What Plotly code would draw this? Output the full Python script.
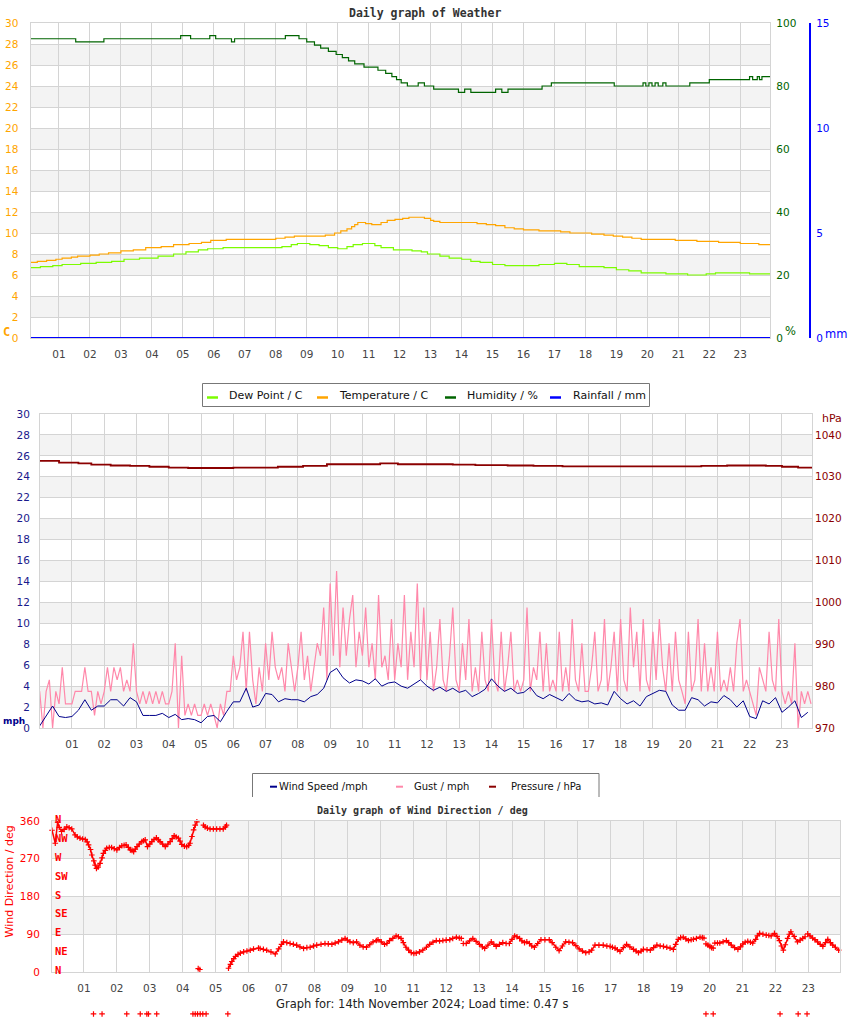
import plotly.graph_objects as go

W, H = 850, 1017


def px(x):
    return x / W


def py(y):
    return 1 - y / H


hour_ticks = list(range(1, 24))
hour_labels = [f"{h:02d}" for h in hour_ticks]

# ---------------- weather panel (step series: hour, value) ----------------
temp_steps = [(0.0, 7.2), (0.3, 7.3), (0.6, 7.4), (0.9, 7.5), (1.1, 7.6), (1.4, 7.7), (1.6, 7.8),
              (2.0, 7.9), (2.3, 8.0), (2.6, 8.1), (3.0, 8.3), (3.4, 8.4), (3.8, 8.6), (4.3, 8.7),
              (4.7, 8.9), (5.2, 9.0), (5.6, 9.1), (5.9, 9.3), (6.4, 9.4), (8.0, 9.5), (8.3, 9.6),
              (8.6, 9.7), (9.6, 9.8), (9.9, 10.0), (10.1, 10.2), (10.3, 10.4), (10.45, 10.6),
              (10.55, 10.8), (10.65, 11.0), (10.9, 10.9), (11.1, 10.8), (11.4, 11.0), (11.6, 11.2),
              (11.85, 11.3), (12.1, 11.4), (12.3, 11.5), (12.8, 11.4), (13.0, 11.2), (13.1, 11.1),
              (13.3, 11.0), (14.5, 10.9), (14.8, 10.8), (15.1, 10.7), (15.4, 10.5), (15.7, 10.4),
              (16.0, 10.3), (16.5, 10.2), (17.2, 10.1), (17.5, 10.0), (18.2, 9.9), (18.6, 9.8),
              (18.9, 9.7), (19.2, 9.6), (19.5, 9.5), (19.8, 9.4), (20.9, 9.3), (21.6, 9.2),
              (22.3, 9.1), (23.0, 9.0), (23.6, 8.9), (23.97, 8.9)]

dew_steps = [(0.0, 6.7), (0.4, 6.8), (0.8, 6.9), (1.1, 7.0), (1.7, 7.1), (2.2, 7.2), (2.7, 7.3),
             (3.1, 7.5), (3.6, 7.6), (4.2, 7.8), (4.7, 8.0), (5.1, 8.2), (5.5, 8.4), (5.8, 8.5),
             (6.3, 8.6), (8.2, 8.7), (8.5, 8.9), (8.7, 9.0), (9.1, 8.9), (9.4, 8.8), (9.7, 8.6),
             (10.0, 8.5), (10.3, 8.7), (10.5, 8.9), (10.8, 9.0), (11.2, 8.8), (11.4, 8.6),
             (11.8, 8.4), (12.4, 8.3), (12.7, 8.2), (12.9, 8.0), (13.3, 7.8), (13.6, 7.6),
             (14.0, 7.5), (14.3, 7.3), (14.6, 7.2), (15.0, 7.0), (15.4, 6.9), (16.5, 7.0),
             (17.0, 7.1), (17.4, 7.0), (17.8, 6.8), (18.6, 6.7), (19.0, 6.5), (19.4, 6.4),
             (19.8, 6.2), (20.6, 6.1), (21.3, 6.0), (21.9, 6.1), (22.2, 6.2), (23.3, 6.1),
             (23.97, 6.1)]

humidity_steps = [(0.0, 95), (1.54, 94), (2.45, 95), (4.93, 96), (5.25, 95), (5.87, 96), (6.06, 95),
                  (6.57, 94), (6.67, 95), (8.31, 96), (8.75, 95), (9.0, 94), (9.25, 93), (9.45, 92),
                  (9.7, 91), (9.95, 90), (10.15, 89), (10.35, 88), (10.55, 87), (10.85, 86),
                  (11.3, 85), (11.55, 84), (11.75, 83), (11.9, 82), (12.05, 81), (12.25, 80),
                  (12.6, 81), (12.8, 80), (13.1, 79), (13.9, 78), (14.1, 79), (14.3, 78),
                  (15.1, 79), (15.3, 78), (15.5, 79), (16.6, 80), (16.9, 81), (18.93, 80),
                  (19.86, 81), (19.95, 80), (20.05, 81), (20.15, 80), (20.25, 81), (20.35, 80),
                  (20.5, 81), (20.6, 80), (21.37, 81), (22.0, 82), (23.3, 83), (23.4, 82),
                  (23.55, 83), (23.62, 82), (23.7, 83), (23.97, 83)]

rain_hours = [0, 4, 8, 12, 16, 20, 23.97]
rain_mm = [0.0, 0.0, 0.0, 0.0, 0.0, 0.0, 0.0]

# ---------------- wind / pressure panel ----------------
gust_mph = [
    3.5, 0.0, 3.5, 4.6, 0.0, 3.5, 2.3, 5.8, 2.3, 2.3,     # 00
    2.3, 3.5, 3.5, 3.5, 5.8, 3.5, 3.5, 1.2, 3.5, 2.3,     # 01
    3.5, 5.8, 3.5, 5.8, 4.6, 5.8, 3.5, 4.6, 3.5, 8.1,     # 02
    3.5, 2.3, 3.5, 2.3, 3.5, 2.3, 3.5, 2.3, 3.5, 2.3,     # 03
    2.3, 3.5, 8.1, 0.0, 6.9, 1.2, 2.3, 1.2, 2.3, 1.2,     # 04
    1.2, 2.3, 1.2, 2.3, 1.2, 0.0, 2.3, 1.2, 3.5, 3.5,     # 05
    6.9, 4.6, 5.8, 9.2, 3.5, 9.2, 4.6, 2.3, 5.8, 3.5,     # 06
    8.1, 4.6, 9.2, 5.8, 4.6, 5.8, 3.5, 8.1, 5.8, 3.5,     # 07
    5.8, 9.2, 4.6, 6.9, 3.5, 5.8, 8.1, 6.9, 11.5, 4.6,    # 08
    13.8, 6.9, 15.0, 5.8, 11.5, 6.9, 10.4, 12.7, 5.8, 9.2,  # 09
    6.9, 11.5, 5.8, 8.1, 4.6, 12.7, 5.8, 6.9, 4.6, 10.4,  # 10
    4.6, 8.1, 5.8, 12.7, 4.6, 9.2, 5.8, 13.8, 4.6, 11.5,  # 11
    4.6, 9.2, 3.5, 5.8, 10.4, 4.6, 3.5, 6.9, 11.5, 4.6,   # 12
    3.5, 8.1, 4.6, 10.4, 3.5, 5.8, 3.5, 9.2, 4.6, 3.5,    # 13
    10.4, 4.6, 3.5, 9.2, 3.5, 5.8, 9.2, 3.5, 4.6, 3.5,    # 14
    4.6, 11.5, 3.5, 5.8, 4.6, 9.2, 3.5, 8.1, 3.5, 4.6,    # 15
    3.5, 9.2, 3.5, 5.8, 3.5, 10.4, 4.6, 3.5, 8.1, 3.5,    # 16
    3.5, 5.8, 9.2, 3.5, 4.6, 10.4, 3.5, 5.8, 9.2, 3.5,    # 17
    10.4, 4.6, 3.5, 11.5, 5.8, 9.2, 3.5, 10.4, 4.6, 3.5,  # 18
    9.2, 4.6, 10.4, 5.8, 3.5, 8.1, 3.5, 9.2, 4.6, 3.5,    # 19
    2.3, 9.2, 3.5, 4.6, 10.4, 3.5, 8.1, 3.5, 5.8, 3.5,    # 20
    9.2, 3.5, 4.6, 3.5, 5.8, 3.5, 8.1, 10.4, 3.5, 4.6,    # 21
    3.5, 2.3, 1.2, 5.8, 4.6, 3.5, 9.2, 4.6, 3.5, 10.4,    # 22
    3.5, 2.3, 3.5, 2.3, 8.1, 0.0, 3.5, 2.3, 3.5, 2.3,     # 23
]
gust_hours = [i / 10 for i in range(len(gust_mph))]

wind_mph = [
    0.2, 1.1, 2.1, 1.1, 1.0,   # 00
    1.1, 1.7, 2.7, 1.7, 2.1,   # 01
    2.1, 2.7, 2.7, 2.1, 2.9,   # 02
    2.5, 1.2, 1.2, 1.2, 1.4,   # 03
    1.0, 1.3, 0.8, 0.9, 0.8,   # 04
    0.5, 1.1, 1.2, 0.6, 1.6,   # 05
    2.5, 2.5, 3.8, 2.0, 2.2,   # 06
    3.3, 3.2, 2.5, 2.8, 2.7,   # 07
    2.7, 2.5, 3.0, 3.2, 3.8,   # 08
    5.3, 5.7, 4.8, 4.3, 4.6,   # 09
    4.5, 4.2, 4.7, 4.0, 4.3,   # 10
    4.4, 4.0, 3.8, 4.2, 4.6,   # 11
    4.0, 3.6, 3.9, 3.5, 3.8,   # 12
    3.4, 3.6, 3.0, 3.3, 3.7,   # 13
    4.7, 4.0, 3.5, 3.8, 3.3,   # 14
    3.4, 3.9, 3.1, 2.8, 3.2,   # 15
    2.9, 2.6, 3.3, 2.7, 2.5,   # 16
    2.6, 2.3, 2.4, 2.2, 3.5,   # 17
    2.8, 2.3, 2.6, 2.1, 3.0,   # 18
    3.3, 3.6, 3.5, 2.2, 1.7,   # 19
    1.7, 2.9, 2.7, 2.1, 2.5,   # 20
    2.4, 3.1, 2.7, 2.0, 2.6,   # 21
    1.1, 0.9, 2.6, 2.3, 2.9,   # 22
    1.5, 2.0, 2.6, 1.0, 1.5,   # 23
]
wind_hours = [i / 5 for i in range(len(wind_mph))]

pressure_steps = [(0.0, 1033.8), (0.6, 1033.4), (1.2, 1033.2), (1.6, 1032.9), (2.2, 1032.7),
                  (2.8, 1032.6), (3.4, 1032.4), (4.0, 1032.2), (4.6, 1032.1), (6.0, 1032.2),
                  (7.38, 1032.4), (8.16, 1032.6), (8.9, 1033.0), (10.55, 1033.2), (11.1, 1033.0),
                  (12.8, 1032.9), (13.5, 1032.8), (14.5, 1032.7), (15.3, 1032.6), (16.2, 1032.5),
                  (20.5, 1032.6), (21.3, 1032.7), (22.5, 1032.6), (23.0, 1032.4), (23.5, 1032.2),
                  (23.93, 1032.2)]

# ---------------- wind direction panel (hour, degrees; None = gap) ----------------
wind_dir = [(0.03, 338), (0.13, 307), (0.2, 357), (0.25, 345), (0.32, 335), (0.4, 340), (0.48, 346),
            (0.55, 344), (0.63, 341), (0.73, 327), (0.8, 322), (0.88, 319), (0.96, 317), (1.04, 316),
            (1.1, 310), (1.14, 303), (1.2, 292), (1.24, 279), (1.3, 265), (1.34, 255), (1.38, 247),
            (1.43, 250), (1.49, 259), (1.55, 272), (1.59, 283), (1.65, 290), (1.69, 295), (1.77, 297),
            (1.84, 297), (1.92, 294), (2.0, 291), (2.08, 297), (2.15, 301), (2.22, 302), (2.28, 303),
            (2.35, 297), (2.41, 291), (2.46, 290), (2.51, 287), (2.56, 293), (2.61, 299), (2.68, 305),
            (2.76, 311), (2.81, 313), (2.86, 315), (2.93, 299), (3.0, 305), (3.06, 311), (3.13, 316),
            (3.2, 320), (3.26, 315), (3.31, 311), (3.39, 305), (3.47, 299), (3.55, 305), (3.62, 311),
            (3.68, 318), (3.74, 325), (3.8, 322), (3.87, 319), (3.92, 312), (3.97, 304), (4.05, 300),
            (4.12, 299), (4.18, 302), (4.22, 307), (4.28, 323), (4.33, 339), (4.38, 350), (4.43, 358),
            (4.45, None), (4.47, 8), (4.52, 6), (4.55, None), (4.58, 364), (4.6, None), (4.63, 350),
            (4.68, 346), (4.75, 343), (4.83, 341), (4.93, 341), (5.03, 341), (5.13, 341), (5.23, 341),
            (5.3, 346), (5.33, 350), (5.36, None), (5.39, 9), (5.45, 18), (5.49, 25), (5.55, 32),
            (5.6, 37), (5.68, 42), (5.75, 45), (5.85, 48), (5.95, 50), (6.05, 52), (6.15, 55),
            (6.3, 57), (6.35, 56), (6.45, 54), (6.55, 52), (6.68, 48), (6.81, 43), (6.91, 55),
            (7.0, 66), (7.06, 72), (7.16, 70), (7.26, 68), (7.36, 66), (7.46, 64), (7.56, 60),
            (7.67, 56), (7.77, 58), (7.87, 59), (7.97, 62), (8.07, 64), (8.2, 66), (8.32, 68),
            (8.42, 67), (8.53, 66), (8.63, 69), (8.73, 72), (8.83, 76), (8.93, 80), (9.0, 76),
            (9.08, 72), (9.18, 70), (9.28, 72), (9.38, 64), (9.48, 60), (9.58, 59), (9.68, 65),
            (9.78, 72), (9.88, 75), (9.93, 77), (10.03, 72), (10.13, 66), (10.2, 68), (10.28, 75),
            (10.38, 80), (10.48, 86), (10.55, 84), (10.63, 80), (10.7, 70), (10.78, 59), (10.86, 52),
            (10.94, 46), (11.02, 44), (11.09, 45), (11.19, 48), (11.29, 52), (11.4, 59), (11.5, 66),
            (11.6, 71), (11.7, 75), (11.8, 74), (11.9, 75), (12.0, 76), (12.11, 77), (12.2, 80),
            (12.31, 83), (12.4, 81), (12.46, 80), (12.49, None), (12.52, 68), (12.61, 68),
            (12.71, 74), (12.81, 80), (12.91, 73), (13.01, 66), (13.1, 60), (13.17, 56), (13.27, 64),
            (13.37, 72), (13.45, 66), (13.52, 61), (13.62, 66), (13.72, 70), (13.82, 68), (13.92, 68),
            (14.0, 78), (14.08, 86), (14.15, 84), (14.23, 80), (14.3, 74), (14.38, 70), (14.45, 72),
            (14.53, 68), (14.6, 62), (14.68, 59), (14.78, 68), (14.88, 77), (15.0, 77), (15.13, 77),
            (15.22, 70), (15.33, 59), (15.43, 51), (15.53, 62), (15.63, 72), (15.73, 71), (15.84, 70),
            (15.94, 63), (16.04, 55), (16.14, 50), (16.24, 46), (16.34, 48), (16.42, 52), (16.52, 64),
            (16.64, 64), (16.77, 64), (16.88, 62), (16.98, 61), (17.05, 59), (17.13, 57), (17.2, 53),
            (17.28, 49), (17.38, 58), (17.48, 66), (17.58, 60), (17.69, 54), (17.77, 50), (17.84, 46),
            (17.92, 50), (17.99, 54), (18.1, 53), (18.2, 52), (18.3, 58), (18.4, 64), (18.5, 62),
            (18.6, 61), (18.7, 59), (18.8, 57), (18.9, 54), (18.97, 66), (19.05, 78), (19.12, 82),
            (19.2, 83), (19.28, 79), (19.36, 75), (19.44, 77), (19.51, 78), (19.6, 80), (19.71, 83),
            (19.78, 82), (19.83, 81), (19.86, None), (19.89, 67), (19.95, 64), (20.01, 61),
            (20.06, 58), (20.11, 57), (20.13, None), (20.16, 69), (20.24, 69), (20.31, 69),
            (20.41, 72), (20.51, 75), (20.58, 70), (20.66, 64), (20.76, 58), (20.86, 54), (20.94, 60),
            (21.01, 67), (21.08, 71), (21.16, 73), (21.24, 71), (21.31, 69), (21.4, 78), (21.45, 86),
            (21.52, 92), (21.62, 90), (21.72, 88), (21.8, 87), (21.87, 86), (21.97, 92), (22.05, 85),
            (22.12, 75), (22.18, 62), (22.24, 52), (22.3, 65), (22.37, 80), (22.42, 90), (22.47, 96),
            (22.57, 85), (22.67, 72), (22.75, 76), (22.83, 80), (22.9, 84), (22.94, None), (22.98, 91),
            (23.05, 86), (23.13, 81), (23.2, 77), (23.28, 72), (23.36, 66), (23.44, 61), (23.52, 70),
            (23.59, 78), (23.67, 70), (23.74, 64), (23.82, 59), (23.92, 52)]

calm_hours = [1.29, 1.55, 2.30, 2.71, 2.91, 2.96, 3.21, 4.31, 4.38, 4.45, 4.53, 4.61, 4.71,
              5.37, 19.89, 20.11, 22.14, 22.69, 22.96]
CALM_DEG = -100

compass = ["N", "NE", "E", "SE", "S", "SW", "W", "NW", "N"]
compass_deg = [0, 45, 90, 135, 180, 225, 270, 315, 360]

GRID = "#d4d4d4"
BAND = "#f3f3f3"
TICK_GREY = "#444444"
MONO = "DejaVu Sans Mono"
SANS = "DejaVu Sans"

fig = go.Figure()


def steps(data):
    return [d[0] for d in data], [d[1] for d in data]


# top panel
hx, hy = steps(humidity_steps)
tx, ty = steps(temp_steps)
dx, dy = steps(dew_steps)
fig.add_trace(go.Scatter(x=hx, y=hy, xaxis="x", yaxis="y2", mode="lines", line_shape="hv",
                         line=dict(color="#006400", width=1.2), name="Humidity / %"))
fig.add_trace(go.Scatter(x=tx, y=ty, xaxis="x", yaxis="y", mode="lines", line_shape="hv",
                         line=dict(color="#FFA500", width=1.2), name="Temperature / C"))
fig.add_trace(go.Scatter(x=dx, y=dy, xaxis="x", yaxis="y", mode="lines", line_shape="hv",
                         line=dict(color="#7CFC00", width=1.2), name="Dew Point / C"))
fig.add_trace(go.Scatter(x=rain_hours, y=rain_mm, xaxis="x", yaxis="y3", mode="lines",
                         line=dict(color="#0000FF", width=2), name="Rainfall / mm", cliponaxis=False))

# middle panel
fig.add_trace(go.Scatter(x=gust_hours, y=gust_mph, xaxis="x2", yaxis="y4", mode="lines",
                         line=dict(color="#FF88AA", width=1.2), name="Gust / mph"))
fig.add_trace(go.Scatter(x=wind_hours, y=wind_mph, xaxis="x2", yaxis="y4", mode="lines",
                         line=dict(color="#00008B", width=1), name="Wind Speed /mph"))
px_, py_ = steps(pressure_steps)
fig.add_trace(go.Scatter(x=px_, y=py_, xaxis="x2", yaxis="y5", mode="lines", line_shape="hv",
                         line=dict(color="#8B0000", width=1.8), name="Pressure / hPa"))

# bottom panel
wx, wy = steps(wind_dir)
cross = dict(symbol="cross-thin", size=4, line=dict(width=1.2, color="#FF0000"))
fig.add_trace(go.Scatter(x=wx, y=wy, xaxis="x3", yaxis="y6", mode="lines+markers",
                         line=dict(color="#FF0000", width=1.5), marker=cross,
                         cliponaxis=False, connectgaps=False, name="Wind Direction"))
# calm readings sit below the 0 deg line; a hidden subplot reaching the page bottom holds them
fig.add_trace(go.Scatter(x=calm_hours, y=[CALM_DEG] * len(calm_hours), xaxis="x4", yaxis="y7",
                         mode="markers", cliponaxis=False, marker=cross, name="Calm"))

xcommon = dict(tickvals=hour_ticks, ticktext=hour_labels, showgrid=True, gridcolor=GRID,
               zeroline=False, showline=True, linecolor=GRID, mirror=True, ticks="", automargin=False,
               tickfont=dict(family=SANS, size=10.5, color=TICK_GREY), ticklabelstandoff=6)
ycommon = dict(showgrid=True, gridcolor=GRID, zeroline=False, showline=True, linecolor=GRID,
               mirror=True, ticks="", automargin=False)
ynogrid = dict(showgrid=False, zeroline=False, ticks="", automargin=False)
hidden = dict(visible=False, showgrid=False, zeroline=False, automargin=False)

deg_per_px = 360 / (972 - 821)
fig.update_layout(
    width=W, height=H, margin=dict(l=0, r=0, t=0, b=0, pad=0, autoexpand=False),
    paper_bgcolor="white", plot_bgcolor="rgba(0,0,0,0)", showlegend=False,
    xaxis=dict(domain=[px(30.5), px(770.3)], anchor="y", range=[0.08, 23.97], **xcommon),
    yaxis=dict(domain=[py(338), py(23)], anchor="x", range=[0, 30], tickvals=list(range(0, 31, 2)),
               tickfont=dict(family=SANS, size=10.5, color="#FFA500"), ticklabelstandoff=9, **ycommon),
    yaxis2=dict(overlaying="y", side="right", anchor="x", range=[0, 100],
                tickvals=list(range(0, 101, 20)), **ynogrid,
                tickfont=dict(family=SANS, size=10.5, color="#006400"), ticklabelstandoff=5),
    yaxis3=dict(overlaying="y", side="right", anchor="free", position=px(810.3), range=[0, 15],
                tickvals=[0, 5, 10, 15], **ynogrid,
                showline=True, linecolor="#0000FF", linewidth=1.5,
                tickfont=dict(family=SANS, size=10.5, color="#0000FF"), ticklabelstandoff=3),
    xaxis2=dict(domain=[px(40), px(812)], anchor="y4", range=[0.01, 23.93], **xcommon),
    yaxis4=dict(domain=[py(728), py(414)], anchor="x2", range=[0, 30], tickvals=list(range(0, 31, 2)),
                tickfont=dict(family=SANS, size=10.5, color="#1a1a8c"), ticklabelstandoff=7, **ycommon),
    yaxis5=dict(overlaying="y4", side="right", anchor="x2", range=[970, 1045],
                tickvals=list(range(970, 1041, 10)), **ynogrid,
                tickfont=dict(family=SANS, size=10.5, color="#8B0000"), ticklabelstandoff=2),
    xaxis3=dict(domain=[px(52), px(840.3)], anchor="y6", range=[0.03, 23.97], **xcommon),
    yaxis6=dict(domain=[py(972), py(821)], anchor="x3", range=[0, 360], tickvals=[0, 90, 180, 270, 360],
                tickfont=dict(family=SANS, size=10.5, color="#FF0000"), ticklabelstandoff=9, **ycommon),
    xaxis4=dict(domain=[px(52), px(840.3)], anchor="y7", range=[0.03, 23.97], **hidden),
    yaxis7=dict(domain=[0, py(821)], anchor="x4", range=[-(H - 972) * deg_per_px, 360], **hidden),
)

shapes = []
# alternating grey bands
for lo in range(2, 28, 4):
    shapes.append(dict(type="rect", xref="x domain", yref="y", x0=0, x1=1, y0=lo, y1=lo + 2,
                       fillcolor=BAND, line=dict(width=0), layer="below"))
    shapes.append(dict(type="rect", xref="x2 domain", yref="y4", x0=0, x1=1, y0=lo, y1=lo + 2,
                       fillcolor=BAND, line=dict(width=0), layer="below"))
for lo in (90, 270):
    shapes.append(dict(type="rect", xref="x3 domain", yref="y6", x0=0, x1=1, y0=lo, y1=lo + 90,
                       fillcolor=BAND, line=dict(width=0), layer="below"))

# hand-made legends
shapes.append(dict(type="rect", xref="paper", yref="paper", x0=px(202.5), x1=px(649.5),
                   y0=py(406.5), y1=py(383.5), fillcolor="white", line=dict(color="#777777", width=1)))
legend1 = [("Dew Point / C", "#7CFC00", 207, 227), ("Temperature / C", "#FFA500", 317, 337),
           ("Humidity / %", "#006400", 445, 465), ("Rainfall / mm", "#0000FF", 550, 571)]
for _, col, lx, _ in legend1:
    shapes.append(dict(type="line", xref="paper", yref="paper", x0=px(lx), x1=px(lx + 11),
                       y0=py(397.5), y1=py(397.5), line=dict(color=col, width=2.5)))

lg2_path = (f"M{px(252.5)},{py(797)} L{px(252.5)},{py(773.5)} "
            f"L{px(599)},{py(773.5)} L{px(599)},{py(797)}")
shapes.append(dict(type="path", xref="paper", yref="paper", path=lg2_path,
                   line=dict(color="#777777", width=1)))
legend2 = [("Wind Speed /mph", "#00008B", 270, 277), ("Gust / mph", "#FF88AA", 396, 411.5),
           ("Pressure / hPa", "#8B0000", 489, 509)]
for _, col, lx, _ in legend2:
    shapes.append(dict(type="line", xref="paper", yref="paper", x0=px(lx), x1=px(lx + 7),
                       y0=py(786.7), y1=py(786.7), line=dict(color=col, width=2)))

annotations = []


def note(text, x, y, color="#222222", size=11, family=SANS, xanchor="center", **kw):
    annotations.append(dict(text=text, x=px(x), y=py(y), xref="paper", yref="paper",
                            showarrow=False, xanchor=xanchor, yanchor="middle",
                            font=dict(family=family, size=size, color=color), **kw))


note("<b>Daily graph of Weather</b>", 425, 13, color="#333333", size=11.5, family=MONO)
note("<b>C</b>", 6, 332, color="#FFA500", size=12, family=MONO)
note("%", 790, 331, color="#006400", size=11.5)
note("mm", 836, 334, color="#0000FF", size=11.5)
for text, _, _, tx0 in legend1:
    note(text, tx0, 395.5, color="#111111", size=11, xanchor="left")
for text, _, _, tx0 in legend2:
    note(text, tx0, 786, color="#111111", size=10, xanchor="left")
note("<b>mph</b>", 0.5, 721, color="#00008B", size=9, xanchor="left")
note("hPa", 832, 418, color="#8B0000", size=11)
note("<b>Daily graph of Wind Direction / deg</b>", 422, 810, color="#333333", size=10, family=MONO)
note("Wind Direction / deg", 8.5, 882, color="#FF0000", size=11, textangle=-90)
note("Graph for: 14th November 2024; Load time: 0.47 s", 422, 1004, color="#222222", size=11.5)

for lab, deg in zip(compass, compass_deg):
    annotations.append(dict(text=f"<b>{lab}</b>", x=px(53), y=deg, xref="paper", yref="y6",
                            showarrow=False, xanchor="left", yanchor="middle", yshift=2,
                            font=dict(family=MONO, size=10.5, color="#FF0000")))

fig.update_layout(shapes=shapes, annotations=annotations)

# the page body has a default 8px margin; drop it so the chart sits at the window's corner
fig.write_html("out.html", config={"displayModeBar": False},
               post_script="document.body.style.margin='0';document.body.style.overflow='hidden';")
